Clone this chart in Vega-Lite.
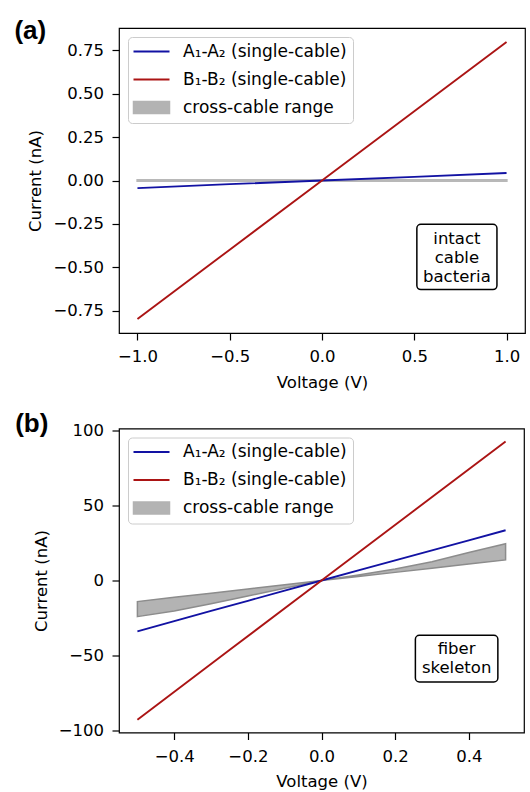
{
  "$schema": "https://vega.github.io/schema/vega-lite/v6.json",
  "padding": {"left": 13, "top": 17, "right": 3, "bottom": 0},
  "background": "white",
  "spacing": 17.5,
  "align": "none",
  "config": {
    "font": "DejaVu Sans",
    "view": {"stroke": "black", "strokeWidth": 1.2},
    "axis": {
      "domain": false, "grid": false, "ticks": true, "tickSize": 7, "tickColor": "black", "tickWidth": 1.2,
      "labelFont": "DejaVu Sans", "labelFontSize": 16.5, "labelColor": "black", "labelPadding": 8.5, "labelFlush": false,
      "titleFont": "DejaVu Sans", "titleFontSize": 16.5, "titleFontWeight": "normal", "titleColor": "black", "titlePadding": 9
    }
  },
  "resolve": {"scale": {"color": "independent"}, "legend": {"color": "independent"}},
  "datasets": {
    "linesA": [
      {"series": "A₁-A₂ (single-cable)", "v": -1.0, "i": -0.044},
      {"series": "A₁-A₂ (single-cable)", "v": -0.5, "i": -0.021},
      {"series": "A₁-A₂ (single-cable)", "v": 0.0, "i": 0.0},
      {"series": "A₁-A₂ (single-cable)", "v": 0.5, "i": 0.021},
      {"series": "A₁-A₂ (single-cable)", "v": 1.0, "i": 0.043},
      {"series": "B₁-B₂ (single-cable)", "v": -1.0, "i": -0.796},
      {"series": "B₁-B₂ (single-cable)", "v": -0.5, "i": -0.398},
      {"series": "B₁-B₂ (single-cable)", "v": 0.0, "i": 0.0},
      {"series": "B₁-B₂ (single-cable)", "v": 0.5, "i": 0.398},
      {"series": "B₁-B₂ (single-cable)", "v": 1.0, "i": 0.797}
    ],
    "bandA": [
      {"series": "cross-cable range", "v": -1.0, "lo": -0.002, "hi": 0.002},
      {"series": "cross-cable range", "v": 0.0, "lo": -0.002, "hi": 0.002},
      {"series": "cross-cable range", "v": 1.0, "lo": -0.002, "hi": 0.002}
    ],
    "boxA": [
      {"x1": 0.514, "x2": 0.948, "y1": -0.252, "y2": -0.627, "xc": 0.731, "yc": -0.337, "label": "intact\ncable\nbacteria"}
    ],
    "linesB": [
      {"series": "A₁-A₂ (single-cable)", "v": -0.5, "i": -33.8},
      {"series": "A₁-A₂ (single-cable)", "v": -0.4, "i": -27.0},
      {"series": "A₁-A₂ (single-cable)", "v": -0.3, "i": -20.2},
      {"series": "A₁-A₂ (single-cable)", "v": -0.2, "i": -13.5},
      {"series": "A₁-A₂ (single-cable)", "v": -0.1, "i": -6.7},
      {"series": "A₁-A₂ (single-cable)", "v": 0.0, "i": 0.0},
      {"series": "A₁-A₂ (single-cable)", "v": 0.1, "i": 6.7},
      {"series": "A₁-A₂ (single-cable)", "v": 0.2, "i": 13.4},
      {"series": "A₁-A₂ (single-cable)", "v": 0.3, "i": 20.0},
      {"series": "A₁-A₂ (single-cable)", "v": 0.4, "i": 26.7},
      {"series": "A₁-A₂ (single-cable)", "v": 0.5, "i": 33.4},
      {"series": "B₁-B₂ (single-cable)", "v": -0.5, "i": -92.5},
      {"series": "B₁-B₂ (single-cable)", "v": -0.25, "i": -46.2},
      {"series": "B₁-B₂ (single-cable)", "v": 0.0, "i": 0.0},
      {"series": "B₁-B₂ (single-cable)", "v": 0.25, "i": 46.2},
      {"series": "B₁-B₂ (single-cable)", "v": 0.5, "i": 92.3}
    ],
    "bandB": [
      {"series": "cross-cable range", "v": -0.5, "lo": -24.0, "hi": -14.0},
      {"series": "cross-cable range", "v": -0.4, "lo": -20.2, "hi": -11.2},
      {"series": "cross-cable range", "v": -0.3, "lo": -15.5, "hi": -8.4},
      {"series": "cross-cable range", "v": -0.2, "lo": -10.3, "hi": -5.6},
      {"series": "cross-cable range", "v": -0.1, "lo": -5.2, "hi": -2.8},
      {"series": "cross-cable range", "v": 0.0, "lo": 0.0, "hi": 0.0},
      {"series": "cross-cable range", "v": 0.1, "lo": 2.7, "hi": 3.6},
      {"series": "cross-cable range", "v": 0.2, "lo": 5.4, "hi": 7.6},
      {"series": "cross-cable range", "v": 0.3, "lo": 8.1, "hi": 12.4},
      {"series": "cross-cable range", "v": 0.4, "lo": 10.9, "hi": 18.6},
      {"series": "cross-cable range", "v": 0.5, "lo": 13.7, "hi": 24.4}
    ],
    "boxB": [
      {"x1": 0.255, "x2": 0.479, "y1": -36.4, "y2": -67.4, "xc": 0.367, "yc": -45.8, "label": "fiber\nskeleton"}
    ]
  },
  "vconcat": [
    {
      "width": 406,
      "height": 305,
      "title": {"text": "(a)", "anchor": "start", "frame": "bounds", "font": "Liberation Sans", "fontSize": 26, "fontWeight": "bold", "color": "black", "baseline": "alphabetic", "offset": -37, "dx": -13.5},
      "layer": [
        {
          "data": {"name": "bandA"},
          "mark": {"type": "area", "stroke": "#b8b8b8", "strokeWidth": 2.2, "opacity": 1},
          "encoding": {
            "x": {"field": "v", "type": "quantitative", "scale": {"domain": [-1.1, 1.1], "nice": false, "zero": false}, "axis": {"values": [-1, -0.5, 0, 0.5, 1], "format": ".1f", "title": "Voltage (V)"}},
            "y": {"field": "lo", "type": "quantitative", "scale": {"domain": [-0.877, 0.877], "nice": false, "zero": false}, "axis": {"values": [-0.75, -0.5, -0.25, 0, 0.25, 0.5, 0.75], "format": ".2f", "title": "Current (nA)"}},
            "y2": {"field": "hi"},
            "color": {"field": "series", "type": "nominal", "scale": {"domain": ["A₁-A₂ (single-cable)", "B₁-B₂ (single-cable)", "cross-cable range"], "range": ["#1212a3", "#ab1414", "#b3b3b3"]}}
          }
        },
        {
          "data": {"name": "linesA"},
          "mark": {"type": "line", "strokeWidth": 1.9},
          "encoding": {
            "x": {"field": "v", "type": "quantitative"},
            "y": {"field": "i", "type": "quantitative"},
            "color": {"field": "series", "type": "nominal",
              "legend": {
                "title": null, "orient": "top-left", "offset": 9, "symbolSize": 1296, "symbolStrokeWidth": 2, "symbolOffset": 9,
                "labelFont": "DejaVu Sans", "labelFontSize": 17, "labelColor": "black", "labelOffset": 23, "labelLimit": 400,
                "rowPadding": 10, "padding": 6, "fillColor": "rgba(255,255,255,0.85)", "strokeColor": "#cccccc", "cornerRadius": 4,
                "encode": {"symbols": {"update": {
                  "shape": {"signal": "datum.value === 'cross-cable range' ? 'M-1,-0.34H1V0.34H-1Z' : 'stroke'"},
                  "fill": {"signal": "datum.value === 'cross-cable range' ? '#b3b3b3' : 'transparent'"},
                  "stroke": {"signal": "datum.value === 'cross-cable range' ? '#8c8c8c' : (datum.value[0] === 'A' ? '#1212a3' : '#ab1414')"},
                  "strokeWidth": {"signal": "datum.value === 'cross-cable range' ? 1.5 : 2"},
                  "opacity": {"value": 1}
                }}}
              }
            }
          }
        },
        {
          "data": {"name": "boxA"},
          "mark": {"type": "rect", "fill": "white", "stroke": "black", "strokeWidth": 1.5, "cornerRadius": 4},
          "encoding": {
            "x": {"field": "x1", "type": "quantitative"},
            "x2": {"field": "x2"},
            "y": {"field": "y1", "type": "quantitative"},
            "y2": {"field": "y2"}
          }
        },
        {
          "data": {"name": "boxA"},
          "mark": {"type": "text", "lineBreak": "\n", "font": "DejaVu Sans", "fontSize": 16.5, "lineHeight": 19, "color": "black", "align": "center", "baseline": "middle"},
          "encoding": {
            "x": {"field": "xc", "type": "quantitative"},
            "y": {"field": "yc", "type": "quantitative"},
            "text": {"field": "label"}
          }
        }
      ]
    },
    {
      "width": 405,
      "height": 304,
      "title": {"text": "(b)", "anchor": "start", "frame": "bounds", "font": "Liberation Sans", "fontSize": 26, "fontWeight": "bold", "color": "black", "baseline": "alphabetic", "offset": -35.5, "dx": -18},
      "layer": [
        {
          "data": {"name": "bandB"},
          "mark": {"type": "area", "stroke": "#8c8c8c", "strokeWidth": 1.5, "opacity": 1},
          "encoding": {
            "x": {"field": "v", "type": "quantitative", "scale": {"domain": [-0.55, 0.55], "nice": false, "zero": false}, "axis": {"values": [-0.4, -0.2, 0, 0.2, 0.4], "format": ".1f", "title": "Voltage (V)"}},
            "y": {"field": "lo", "type": "quantitative", "scale": {"domain": [-101, 101], "nice": false, "zero": false}, "axis": {"values": [-100, -50, 0, 50, 100], "format": "d", "title": "Current (nA)"}},
            "y2": {"field": "hi"},
            "color": {"field": "series", "type": "nominal", "scale": {"domain": ["A₁-A₂ (single-cable)", "B₁-B₂ (single-cable)", "cross-cable range"], "range": ["#1212a3", "#ab1414", "#b3b3b3"]}}
          }
        },
        {
          "data": {"name": "linesB"},
          "mark": {"type": "line", "strokeWidth": 1.9},
          "encoding": {
            "x": {"field": "v", "type": "quantitative"},
            "y": {"field": "i", "type": "quantitative"},
            "color": {"field": "series", "type": "nominal",
              "legend": {
                "title": null, "orient": "top-left", "offset": 9, "symbolSize": 1296, "symbolStrokeWidth": 2, "symbolOffset": 9,
                "labelFont": "DejaVu Sans", "labelFontSize": 17, "labelColor": "black", "labelOffset": 23, "labelLimit": 400,
                "rowPadding": 10, "padding": 6, "fillColor": "rgba(255,255,255,0.85)", "strokeColor": "#cccccc", "cornerRadius": 4,
                "encode": {"symbols": {"update": {
                  "shape": {"signal": "datum.value === 'cross-cable range' ? 'M-1,-0.34H1V0.34H-1Z' : 'stroke'"},
                  "fill": {"signal": "datum.value === 'cross-cable range' ? '#b3b3b3' : 'transparent'"},
                  "stroke": {"signal": "datum.value === 'cross-cable range' ? '#8c8c8c' : (datum.value[0] === 'A' ? '#1212a3' : '#ab1414')"},
                  "strokeWidth": {"signal": "datum.value === 'cross-cable range' ? 1.5 : 2"},
                  "opacity": {"value": 1}
                }}}
              }
            }
          }
        },
        {
          "data": {"name": "boxB"},
          "mark": {"type": "rect", "fill": "white", "stroke": "black", "strokeWidth": 1.5, "cornerRadius": 4},
          "encoding": {
            "x": {"field": "x1", "type": "quantitative"},
            "x2": {"field": "x2"},
            "y": {"field": "y1", "type": "quantitative"},
            "y2": {"field": "y2"}
          }
        },
        {
          "data": {"name": "boxB"},
          "mark": {"type": "text", "lineBreak": "\n", "font": "DejaVu Sans", "fontSize": 16.5, "lineHeight": 19, "color": "black", "align": "center", "baseline": "middle"},
          "encoding": {
            "x": {"field": "xc", "type": "quantitative"},
            "y": {"field": "yc", "type": "quantitative"},
            "text": {"field": "label"}
          }
        }
      ]
    }
  ]
}
